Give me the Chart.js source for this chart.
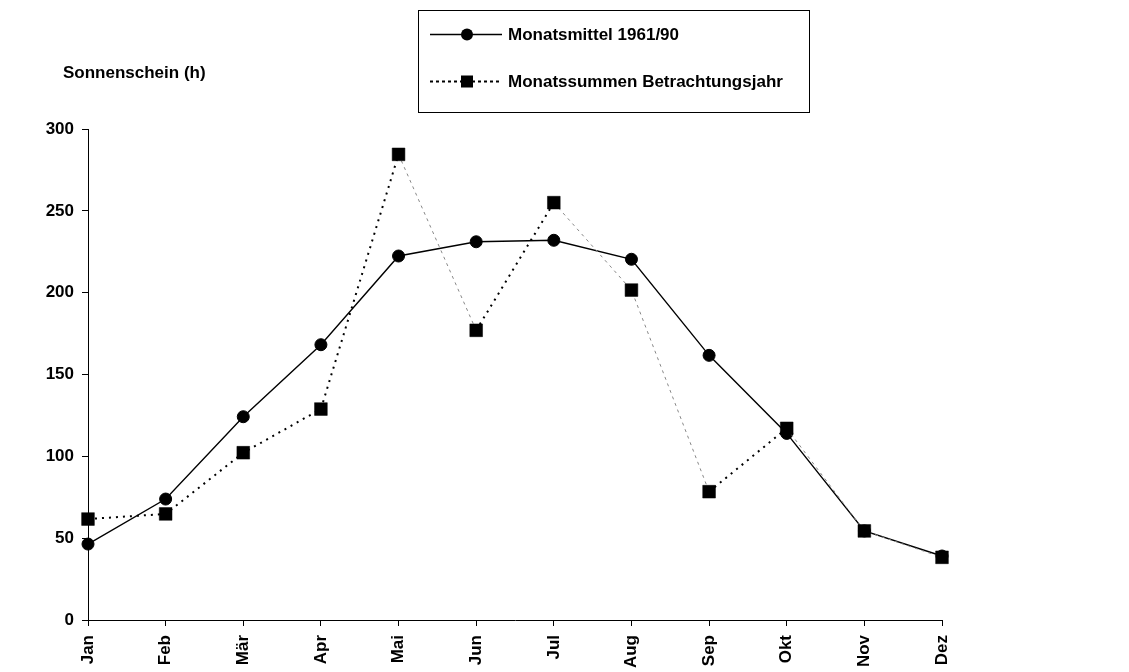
<!DOCTYPE html>
<html>
<head>
<meta charset="utf-8">
<script src="https://cdn.jsdelivr.net/npm/chart.js@4/dist/chart.umd.min.js"></script>
<style>
  html, body { margin: 0; padding: 0; background: #fff; }
  #wrap { width: 1129px; height: 672px; }
</style>
</head>
<body>
<div id="wrap"><canvas id="sonneChart" width="1129" height="672"></canvas></div>
<script>
// Sonnenscheindauer pro Monat
const monate = ['Jan', 'Feb', 'Mär', 'Apr', 'Mai', 'Jun', 'Jul', 'Aug', 'Sep', 'Okt', 'Nov', 'Dez'];
const mittel6190 = [46.4, 73.9, 124.2, 168.2, 222.4, 231.1, 232, 220.4, 161.7, 114, 54.4, 39.1];
const betrachtungsjahr = [61.7, 64.8, 102.2, 128.9, 284.5, 177, 255, 201.6, 78.4, 117.1, 54.4, 38.3];
const yTicks = [0, 50, 100, 150, 200, 250, 300];

const FONT = 'Liberation Sans, Arial, sans-serif';

// Steigende Abschnitte schwarz gepunktet, fallende grau gestrichelt (wie im Original)
const steigt = c => c.p1.parsed.y >= c.p0.parsed.y;

// Legende + Achsentitel selbst zeichnen
const extras = {
  id: 'extras',
  afterDraw(chart) {
    const ctx = chart.ctx;
    ctx.save();
    ctx.fillStyle = '#000';
    ctx.font = 'bold 17px ' + FONT;
    ctx.textBaseline = 'middle';
    ctx.textAlign = 'left';
    ctx.fillText('Sonnenschein (h)', 63, 73);

    // Legendenrahmen
    ctx.strokeStyle = '#000';
    ctx.lineWidth = 1;
    ctx.strokeRect(418.5, 10.5, 391, 102);

    // Eintrag 1: durchgezogen mit Kreis
    ctx.lineWidth = 1.3;
    ctx.beginPath();
    ctx.moveTo(430, 34.5);
    ctx.lineTo(502, 34.5);
    ctx.stroke();
    ctx.beginPath();
    ctx.arc(467, 34.5, 6, 0, Math.PI * 2);
    ctx.fill();
    ctx.fillText(chart.data.datasets[0].label, 508, 35);

    // Eintrag 2: gestrichelt mit Quadrat
    ctx.setLineDash([3, 3]);
    ctx.lineWidth = 2;
    ctx.beginPath();
    ctx.moveTo(430, 81.5);
    ctx.lineTo(502, 81.5);
    ctx.stroke();
    ctx.setLineDash([]);
    ctx.fillRect(461, 75.5, 12, 12);
    ctx.fillText(chart.data.datasets[1].label, 508, 82);
    ctx.restore();
  }
};

const chart = new Chart(document.getElementById('sonneChart').getContext('2d'), {
  type: 'line',
  data: {
    labels: monate,
    datasets: [
      {
        label: 'Monatsmittel 1961/90',
        data: mittel6190,
        borderColor: '#000',
        borderWidth: 1.4,
        backgroundColor: '#000',
        pointStyle: 'circle',
        pointRadius: 6,
        pointBorderWidth: 1,
        pointBorderColor: '#000',
        pointBackgroundColor: '#000',
        tension: 0,
        order: 2
      },
      {
        label: 'Monatssummen Betrachtungsjahr',
        data: betrachtungsjahr,
        borderColor: '#000',
        borderWidth: 2,
        borderDash: [2, 5],
        backgroundColor: '#000',
        pointStyle: 'rect',
        pointRadius: 9,
        pointBorderWidth: 0.5,
        pointBorderColor: '#000',
        pointBackgroundColor: '#000',
        tension: 0,
        order: 1,
        segment: {
          borderColor: c => steigt(c) ? '#000' : '#888',
          borderWidth: c => steigt(c) ? 2 : 1,
          borderDash: c => steigt(c) ? [2, 5] : [3, 4]
        }
      }
    ]
  },
  options: {
    responsive: false,
    animation: false,
    layout: { padding: { left: 0, right: 187, top: 129, bottom: 0 } },
    plugins: {
      legend: { display: false },
      title: { display: false },
      tooltip: { enabled: false }
    },
    scales: {
      x: {
        offset: false,
        grid: { display: true, drawOnChartArea: false, drawTicks: true, tickLength: 6, color: '#000' },
        border: { display: true, color: '#000', width: 1 },
        ticks: {
          color: '#000',
          font: { family: FONT, size: 17, weight: 'bold' },
          minRotation: 90,
          maxRotation: 90,
          padding: 9,
          autoSkip: false
        },
        afterFit(scale) { scale.height = 52; }
      },
      y: {
        min: 0,
        max: 300,
        afterBuildTicks(scale) { scale.ticks = yTicks.map(v => ({ value: v })); },
        grid: { display: true, drawOnChartArea: false, drawTicks: true, tickLength: 6, color: '#000' },
        border: { display: true, color: '#000', width: 1 },
        ticks: {
          color: '#000',
          font: { family: FONT, size: 17, weight: 'bold' },
          padding: 8
        },
        afterFit(scale) { scale.width = 88; }
      }
    }
  },
  plugins: [extras]
});
</script>
</body>
</html>
